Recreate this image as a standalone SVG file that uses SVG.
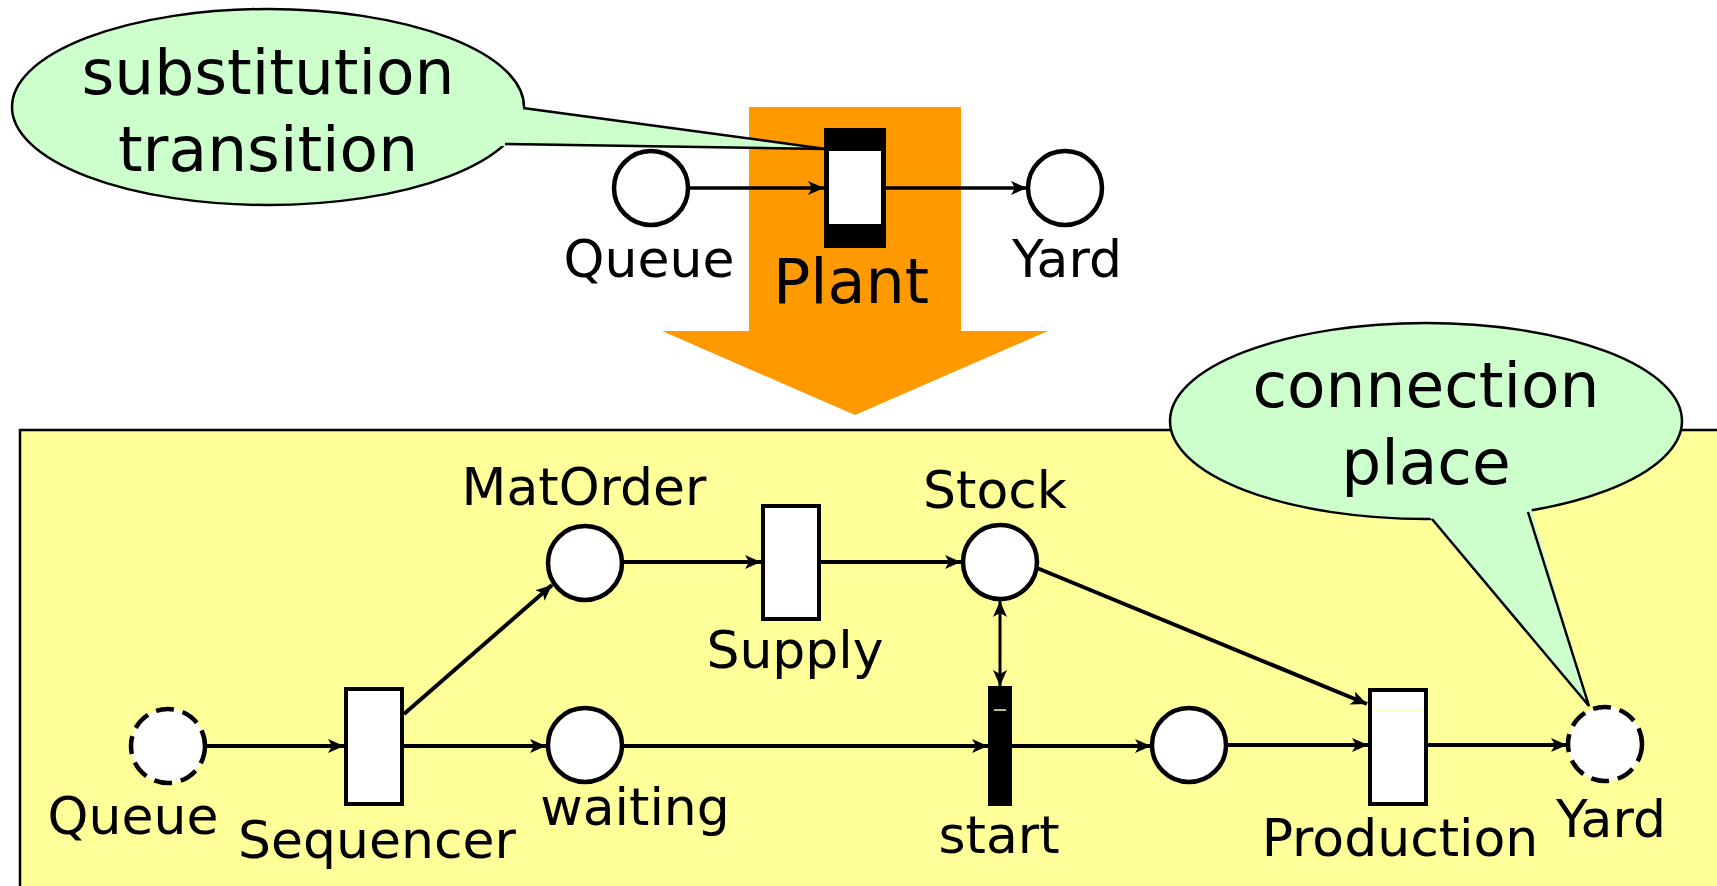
<svg xmlns="http://www.w3.org/2000/svg" width="1717" height="886" viewBox="0 0 1717 886">
<style>
  text { font-family: "DejaVu Sans", "Liberation Sans", sans-serif; fill: #000; text-anchor: middle; }
  .lbl { font-size: 52px; }
  .big { font-size: 62px; }
  .co { font-size: 63px; }
  .place { fill: #fff; stroke: #000; stroke-width: 4.5; }
  .cplace { fill: #fff; stroke: #000; stroke-width: 4.5; stroke-dasharray: 18 9; }
  .trans { fill: #fff; stroke: #000; stroke-width: 4; }
  .arc { fill: none; stroke: #000; stroke-width: 4; marker-end: url(#ah); }
  .arct { fill: none; stroke: #000; stroke-width: 3.5; marker-end: url(#ah); }
  .callout { fill: #CCFFCC; stroke: #000; stroke-width: 2.5; }
</style>
<defs>
  <marker id="ah" markerUnits="userSpaceOnUse" markerWidth="18" markerHeight="16" refX="16" refY="8" orient="auto">
    <path d="M0,1 L16,8 L0,15 L4,8 z" fill="#000"/>
  </marker>
  <marker id="ahs" markerUnits="userSpaceOnUse" markerWidth="18" markerHeight="16" refX="16" refY="8" orient="auto-start-reverse">
    <path d="M0,1 L16,8 L0,15 L4,8 z" fill="#000"/>
  </marker>
</defs>

<!-- yellow page -->
<rect id="page" x="20" y="430" width="1710" height="470" fill="#FFFF99" stroke="#000" stroke-width="2.5"/>

<!-- orange refinement arrow -->
<polygon id="refine-arrow" points="749,107 961,107 961,331 1048,331 855,415 662,331 749,331" fill="#FF9900"/>

<!-- top level net -->
<g id="top-queue">
  <circle class="place" cx="651" cy="188" r="37" stroke-width="4"/>
  <text class="lbl" x="649" y="277">Queue</text>
</g>
<g id="top-yard">
  <circle class="place" cx="1065" cy="188" r="37" stroke-width="4"/>
  <text class="lbl" x="1067" y="277">Yard</text>
</g>

<!-- callout: substitution transition -->
<g id="callout-substitution">
  <ellipse class="callout" cx="268" cy="107" rx="256" ry="98"/>
  <polygon points="518,106 826,149 500,146" fill="#CCFFCC"/>
  <polyline points="523,108 826,149 505,144" fill="none" stroke="#000" stroke-width="2.5"/>
  <text class="co" x="268" y="94">substitution</text>
  <text class="co" x="268" y="171">transition</text>
</g>

<g id="top-plant">
  <rect x="824" y="128" width="62" height="120" fill="#000"/>
  <rect x="829" y="151" width="52" height="73" fill="#fff"/>
  <text class="big" x="851" y="303">Plant</text>
</g>

<g id="top-connectors">
  <path class="arct" d="M690,188 L824,188"/>
  <path class="arct" d="M886,188 L1027,188"/>
</g>

<!-- subpage net -->
<g id="queue">
  <circle class="cplace" cx="168" cy="746" r="37"/>
  <text class="lbl" x="133" y="834">Queue</text>
</g>
<g id="sequencer">
  <rect class="trans" x="346" y="689" width="56" height="115"/>
  <text class="lbl" x="377" y="858">Sequencer</text>
</g>
<g id="matorder">
  <circle class="place" cx="585" cy="563" r="37"/>
  <text class="lbl" x="584" y="505">MatOrder</text>
</g>
<g id="waiting">
  <circle class="place" cx="585" cy="745" r="37"/>
  <text class="lbl" x="635" y="825">waiting</text>
</g>
<g id="supply">
  <rect class="trans" x="763" y="506" width="56" height="113"/>
  <text class="lbl" x="795" y="668">Supply</text>
</g>
<g id="stock">
  <circle class="place" cx="1000" cy="562" r="37"/>
  <text class="lbl" x="995" y="508">Stock</text>
</g>
<g id="start">
  <rect x="988" y="686" width="24" height="120" fill="#000"/>
  <line x1="994" y1="710" x2="1006" y2="710" stroke="#FFFF99" stroke-width="1.5"/>
  <text class="lbl" x="999" y="853">start</text>
</g>
<g id="buffer">
  <circle class="place" cx="1189" cy="745" r="37"/>
</g>
<g id="production">
  <rect class="trans" x="1370" y="690" width="56" height="114"/>
  <line x1="1372" y1="710" x2="1424" y2="710" stroke="#FFFF99" stroke-width="1.2"/>
  <text class="lbl" x="1400" y="856">Production</text>
</g>
<g id="yard">
  <circle class="cplace" cx="1605" cy="744" r="37"/>
  <text class="lbl" x="1611" y="837">Yard</text>
</g>

<g id="connectors">
  <path class="arc" d="M207,746 L344,746"/>
  <path class="arc" d="M404,714 L552,585"/>
  <path class="arc" d="M404,746 L546,746"/>
  <path class="arc" d="M624,562 L761,562"/>
  <path class="arc" d="M821,562 L961,562"/>
  <path d="M1000,601 L1000,686" fill="none" stroke="#000" stroke-width="3" marker-start="url(#ahs)" marker-end="url(#ahs)"/>
  <path class="arc" d="M624,746 L988,746"/>
  <path class="arc" d="M1012,746 L1151,746"/>
  <path class="arc" d="M1037,568 L1367,704"/>
  <path class="arc" d="M1228,745 L1368,745"/>
  <path class="arc" d="M1428,745 L1567,745"/>
</g>

<!-- callout: connection place -->
<g id="callout-connection">
  <ellipse class="callout" cx="1426" cy="421" rx="256" ry="98"/>
  <polygon points="1428,515 1589,706 1531,508" fill="#CCFFCC"/>
  <polyline points="1432,519 1589,706 1528,512" fill="none" stroke="#000" stroke-width="2.5"/>
  <text class="co" x="1426" y="407">connection</text>
  <text class="co" x="1426" y="484">place</text>
</g>
</svg>
